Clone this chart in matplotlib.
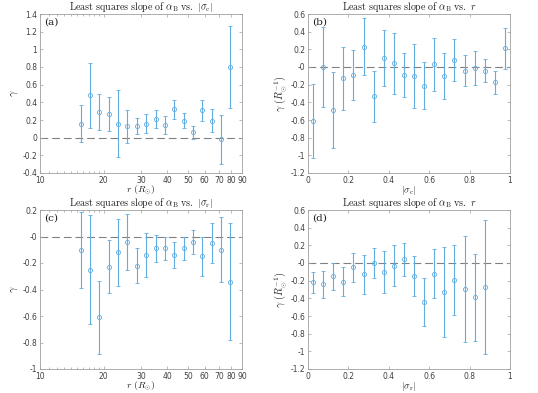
import matplotlib
matplotlib.use("Agg")
import matplotlib.pyplot as plt
import numpy as np
from matplotlib.ticker import FixedLocator, NullFormatter, FixedFormatter

plt.rcParams['mathtext.fontset'] = 'cm'
plt.rcParams['font.family'] = ['DejaVu Sans']

# Panel (a): gamma vs r (log x)
r_bins = [15.6, 17.3, 19.1, 21.2, 23.4, 25.9, 28.7, 31.8, 35.2, 39.0, 43.1, 47.7, 52.8, 58.5, 64.7, 71.6, 79.3]
a_val = [0.16, 0.48, 0.29, 0.27, 0.16, 0.13, 0.13, 0.16, 0.21, 0.14, 0.32, 0.19, 0.06, 0.31, 0.19, -0.02, 0.80]
a_err = [0.21, 0.37, 0.20, 0.19, 0.38, 0.185, 0.09, 0.11, 0.10, 0.10, 0.11, 0.085, 0.075, 0.12, 0.13, 0.28, 0.465]

# Panel (b): gamma vs |sigma_c|
s_bins_b = [0.025, 0.075, 0.125, 0.175, 0.225, 0.275, 0.325, 0.375, 0.425, 0.475,
            0.525, 0.575, 0.625, 0.675, 0.725, 0.775, 0.825, 0.875, 0.925, 0.975]
b_val = [-0.61, 0.00, -0.49, -0.13, -0.09, 0.23, -0.33, 0.10, 0.04, -0.09,
         -0.10, -0.21, 0.03, -0.10, 0.08, -0.04, -0.01, -0.04, -0.17, 0.21]
b_err = [0.42, 0.45, 0.43, 0.36, 0.28, 0.32, 0.29, 0.32, 0.345, 0.25,
         0.365, 0.27, 0.30, 0.26, 0.235, 0.18, 0.19, 0.13, 0.13, 0.23]

# Panel (c): gamma vs r (log x)
c_val = [-0.10, -0.25, -0.61, -0.23, -0.12, -0.04, -0.22, -0.14, -0.09, -0.09, -0.14, -0.09, -0.04, -0.15, -0.05, -0.10, -0.34]
c_err = [0.285, 0.41, 0.275, 0.20, 0.25, 0.21, 0.13, 0.165, 0.105, 0.09, 0.10, 0.085, 0.09, 0.15, 0.15, 0.245, 0.44]

# Panel (d): gamma vs |sigma_r|
s_bins_d = [0.025, 0.075, 0.125, 0.175, 0.225, 0.275, 0.325, 0.375, 0.425, 0.475,
            0.525, 0.575, 0.625, 0.675, 0.725, 0.775, 0.825, 0.875]
d_val = [-0.22, -0.24, -0.15, -0.21, -0.05, -0.13, 0.00, -0.10, -0.03, 0.04,
         -0.15, -0.44, -0.12, -0.33, -0.19, -0.29, -0.39, -0.27]
d_err = [0.115, 0.155, 0.155, 0.16, 0.16, 0.22, 0.17, 0.235, 0.23, 0.19,
         0.225, 0.27, 0.275, 0.51, 0.395, 0.60, 0.49, 0.76]

log_ticks = [10, 20, 30, 40, 50, 60, 70, 80, 90]
lin_ticks = [0, 0.2, 0.4, 0.6, 0.8, 1]

title_r = r'$\mathrm{Least\ squares\ slope\ of\ }\alpha_{\mathrm{B}}\mathrm{\ vs.\ }r$'
title_c = r'$\mathrm{Least\ squares\ slope\ of\ }\alpha_{\mathrm{B}}\mathrm{\ vs.\ }|\sigma_{\mathrm{c}}|$'
title_rr = r'$\mathrm{Least\ squares\ slope\ of\ }\alpha_{\mathrm{B}}\mathrm{\ vs.\ }|\sigma_{\mathrm{r}}|$'

W, H = 538, 393
fig = plt.figure(figsize=(W / 100, H / 100), dpi=100)

def ax_at(x0, y0, x1, y1):
    return fig.add_axes([x0 / W, 1 - y1 / H, (x1 - x0) / W, (y1 - y0) / H])

col = '#62ade0'
axcol = '#a0a0a0'
txtcol = '#404040'
labcol = '#202020'

def style(ax, label):
    for s in ax.spines.values():
        s.set_color(axcol)
        s.set_linewidth(0.6)
    ax.tick_params(which='both', direction='in', top=True, right=True, colors=axcol,
                   labelcolor=txtcol, labelsize=5.5, width=0.5, pad=2)
    ax.tick_params(which='major', length=2.5)
    ax.tick_params(which='minor', length=1.5)
    ax.text(0.02, 0.975, label, transform=ax.transAxes, ha='left', va='top',
            fontsize=7.5, family='DejaVu Serif', color=labcol)

def draw(ax, x, y, e):
    ax.errorbar(x, y, yerr=e, fmt='o', ms=3, mfc='none', mec=col, mew=0.6,
                ecolor=col, elinewidth=0.8, capsize=1.5, capthick=0.6, zorder=3)
    ax.axhline(0, color='#808080', ls=(0, (7, 3.5)), lw=0.8, zorder=1)

def log_axis(ax):
    ax.set_xscale('log')
    ax.set_xlim(10, 90)
    ax.xaxis.set_major_locator(FixedLocator(log_ticks))
    ax.xaxis.set_major_formatter(FixedFormatter([str(t) for t in log_ticks]))
    ax.xaxis.set_minor_locator(FixedLocator([11, 12, 13, 14, 15, 16, 17, 18, 19]))
    ax.xaxis.set_minor_formatter(NullFormatter())
    ax.set_xlabel(r'$r\ (R_{\odot})$', fontsize=7, labelpad=-0.5, color=labcol)

def lin_axis(ax, xlabel):
    ax.set_xlim(0, 1)
    ax.set_xticks(lin_ticks)
    ax.set_xticklabels([('%g' % t) for t in lin_ticks])
    ax.set_xlabel(xlabel, fontsize=7, labelpad=-0.5, color=labcol)

def y_axis(ax, lo, hi):
    ax.set_ylim(lo, hi)
    yt = np.round(np.arange(lo, hi + 0.01, 0.2), 1)
    ax.set_yticks(yt)
    ax.set_yticklabels([('%g' % t) for t in yt])

# (a)
ax = ax_at(40, 14, 242, 173)
draw(ax, r_bins, a_val, a_err)
log_axis(ax)
y_axis(ax, -0.4, 1.4)
ax.set_ylabel(r'$\gamma$', fontsize=7.5, labelpad=2, color=labcol)
ax.set_title(title_c, fontsize=7.2, pad=2, color=labcol)
style(ax, '(a)')

# (b)
ax = ax_at(308, 14, 510, 173)
draw(ax, s_bins_b, b_val, b_err)
lin_axis(ax, r'$|\sigma_{\mathrm{c}}|$')
y_axis(ax, -1.2, 0.6)
ax.set_ylabel(r'$\gamma\ (R_{\odot}^{-1})$', fontsize=7.5, labelpad=1, color=labcol)
ax.set_title(title_r, fontsize=7.2, pad=2, color=labcol)
style(ax, '(b)')

# (c)
ax = ax_at(40, 210, 242, 369)
draw(ax, r_bins, c_val, c_err)
log_axis(ax)
y_axis(ax, -1.0, 0.2)
ax.set_ylabel(r'$\gamma$', fontsize=7.5, labelpad=2, color=labcol)
ax.set_title(title_rr, fontsize=7.2, pad=1.5, color=labcol)
style(ax, '(c)')

# (d)
ax = ax_at(308, 210, 510, 369)
draw(ax, s_bins_d, d_val, d_err)
lin_axis(ax, r'$|\sigma_{\mathrm{r}}|$')
y_axis(ax, -1.2, 0.6)
ax.set_ylabel(r'$\gamma\ (R_{\odot}^{-1})$', fontsize=7.5, labelpad=1, color=labcol)
ax.set_title(title_r, fontsize=7.2, pad=1.5, color=labcol)
style(ax, '(d)')

fig.savefig('out.png', dpi=100, facecolor='white')
